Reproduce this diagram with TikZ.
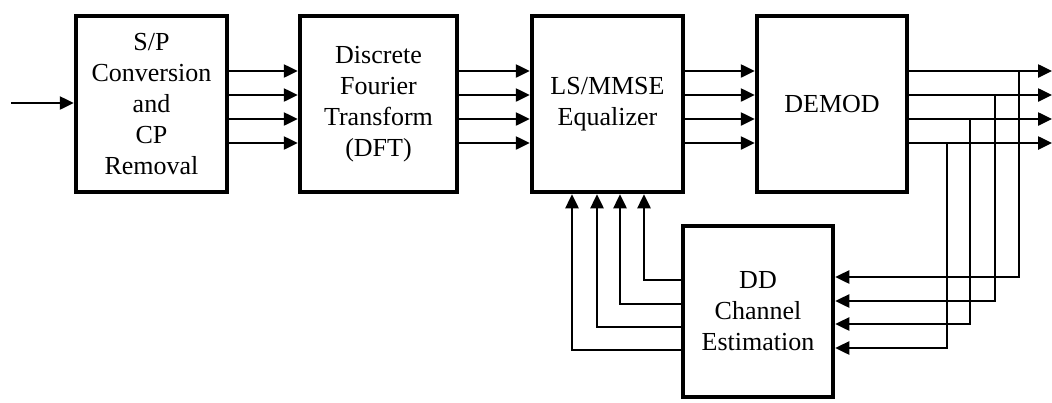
\documentclass[tikz,border=0pt]{standalone}
\usepackage{fontspec}
\setmainfont{Liberation Serif}
\usetikzlibrary{arrows.meta}
\begin{document}
\begin{tikzpicture}[x=1pt,y=-1pt,
  blk/.style={draw,line width=4.5pt,minimum width=#1,inner sep=0pt,align=center,
    font=\fontsize{26}{31}\selectfont},
  conn/.style={line width=2.5pt,-{Triangle[length=14pt,width=13pt]}},
  wire/.style={line width=2.5pt}]
\useasboundingbox (0,0) rectangle (1052,402);
\node[blk=151pt,minimum height=176pt] (b1) at (151.5,104) {S/P\\Conversion\\and\\CP\\Removal};
\node[blk=157pt,minimum height=176pt] (b2) at (378.5,104) {Discrete\\Fourier\\Transform\\(DFT)};
\node[blk=151pt,minimum height=176pt] (b3) at (607.5,104) {LS/MMSE\\Equalizer};
\node[blk=150pt,minimum height=176pt] (b4) at (832,104) {DEMOD};
\node[blk=150pt,minimum height=171pt] (b5) at (758,311.5) {DD\\Channel\\Estimation};
\coordinate (in) at (11,103);
\draw[conn] (in) -- (in -| b1.west);
% row levels
\foreach \i/\y in {1/71,2/95,3/119,4/143}{
  \coordinate (r\i) at (0,\y);
  \draw[conn] (b1.east |- r\i) -- (b2.west |- r\i);
  \draw[conn] (b2.east |- r\i) -- (b3.west |- r\i);
  \draw[conn] (b3.east |- r\i) -- (b4.west |- r\i);
  \coordinate (o\i) at (1052,\y);
  \draw[conn] (b4.east |- r\i) -- (o\i);
}
% taps to DD channel estimation
\foreach \i/\x/\y in {1/1019/277,2/995/301,3/970/324,4/947/348}{
  \coordinate (t\i) at (\x,0);
  \coordinate (f\i) at (0,\y);
  \draw[conn] (t\i |- r\i) -- (t\i |- f\i) -- (b5.east |- f\i);
}
% feedback to equalizer
\foreach \i/\x/\y in {1/644/280,2/620/304,3/597/327,4/572/350}{
  \coordinate (u\i) at (\x,\y);
  \draw[conn] (b5.west |- u\i) -- (u\i) -- (u\i |- b3.south);
}
\end{tikzpicture}
\end{document}
